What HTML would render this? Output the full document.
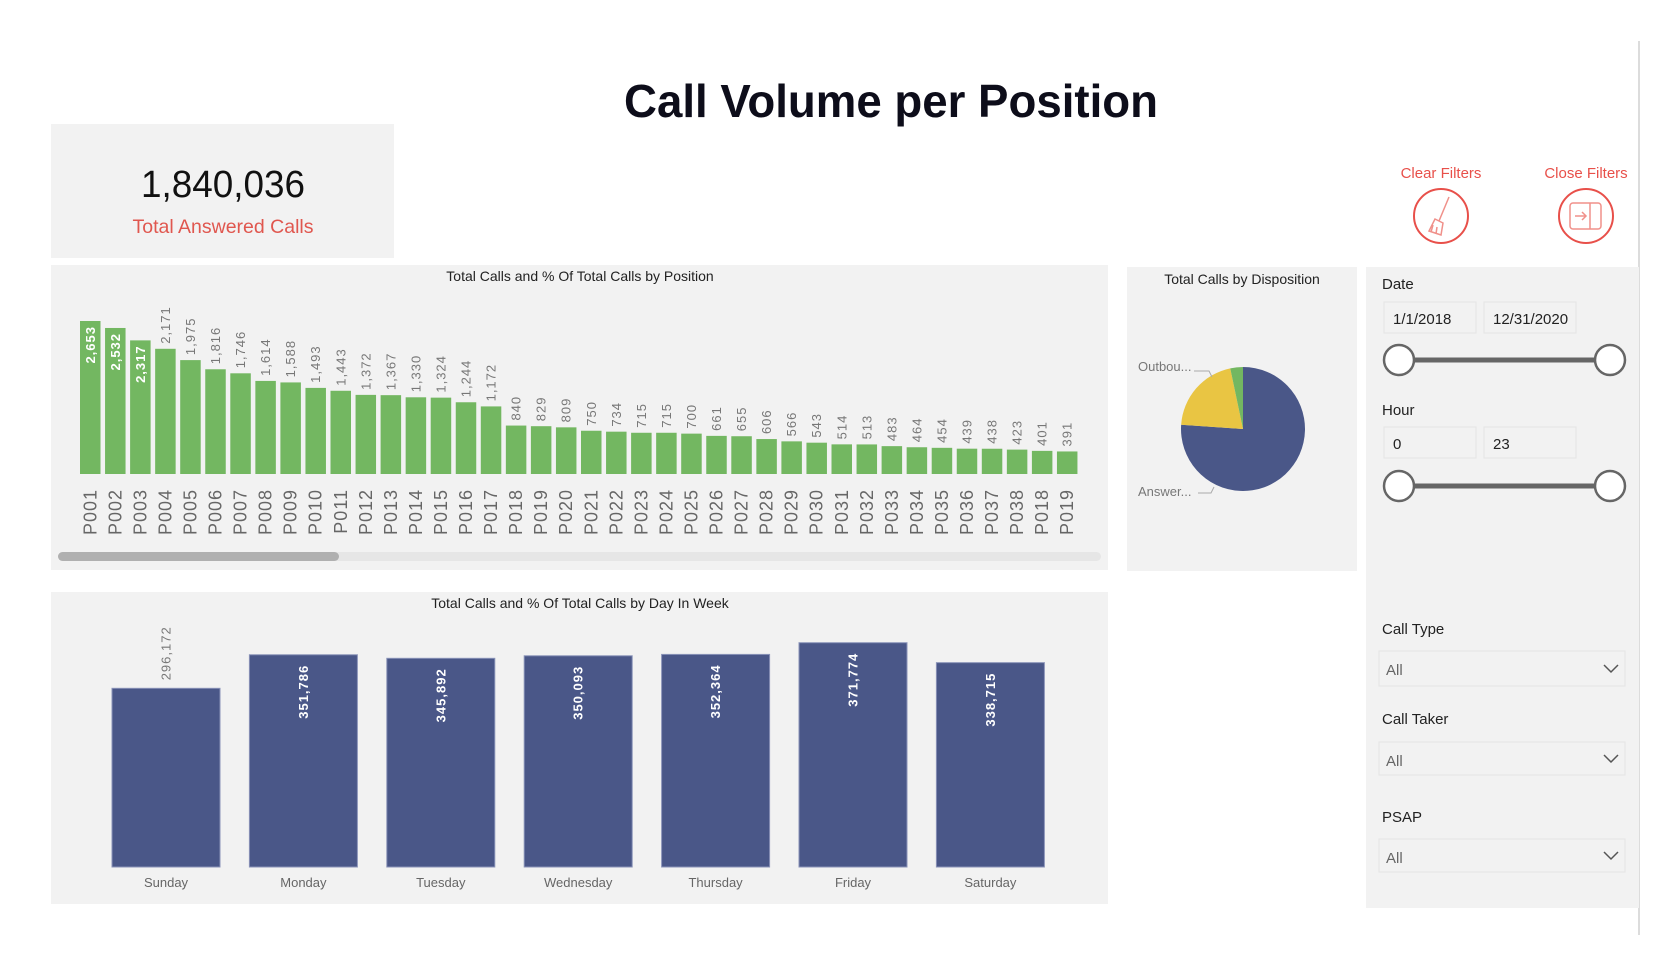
<!DOCTYPE html>
<html><head><meta charset="utf-8"><style>
body{margin:0;background:#fff;}
svg{display:block;font-family:"Liberation Sans",sans-serif;}
</style></head><body>
<svg id="dash" width="1680" height="971" viewBox="0 0 1680 971">
<text x="891" y="117" text-anchor="middle" font-size="46" font-weight="bold" fill="#0d0d1a" textLength="534" lengthAdjust="spacingAndGlyphs">Call Volume per Position</text>

<g>
<rect x="51" y="124" width="343" height="134" fill="#f2f2f2"/>
<text x="223" y="197" text-anchor="middle" font-size="38" fill="#111" textLength="164" lengthAdjust="spacingAndGlyphs">1,840,036</text>
<text x="223" y="233" text-anchor="middle" font-size="19.5" fill="#e0574f">Total Answered Calls</text>
</g>

<g>
<text x="1441" y="178" text-anchor="middle" font-size="15" fill="#e8504a">Clear Filters</text>
<circle cx="1441" cy="216" r="27" fill="#fff" stroke="#e8504a" stroke-width="2"/>
<g stroke="#f0908a" stroke-width="1.5" fill="none"><line x1="1449" y1="197" x2="1439" y2="221"/><path d="M1435 219 L1443 223 L1441 235 L1429 231 Z"/><line x1="1433" y1="225" x2="1431" y2="232"/><line x1="1437" y1="227" x2="1436" y2="234"/></g>
</g>
<g>
<text x="1586" y="178" text-anchor="middle" font-size="15" fill="#e8504a">Close Filters</text>
<circle cx="1586" cy="216" r="27" fill="#fff" stroke="#e8504a" stroke-width="2"/>
<g stroke="#f0908a" stroke-width="1.5" fill="none"><rect x="1570" y="203" width="31" height="26" rx="3"/><line x1="1590" y1="203" x2="1590" y2="229"/><line x1="1575" y1="216" x2="1586" y2="216"/><path d="M1582 212 L1586 216 L1582 220"/></g>
</g>

<line x1="1639" y1="41" x2="1639" y2="935" stroke="#d0d0d0" stroke-width="1.5"/>

<g>
<rect x="51" y="265" width="1057" height="305" fill="#f2f2f2"/>
<text x="580" y="281" text-anchor="middle" font-size="14" fill="#222">Total Calls and % Of Total Calls by Position</text>
<g id="posBars"></g>
<rect x="58" y="552" width="1043" height="9" rx="4.5" fill="#e6e6e6"/>
<rect x="58" y="552" width="281" height="9" rx="4.5" fill="#b0b0b0"/>
</g>

<g>
<rect x="51" y="592" width="1057" height="312" fill="#f2f2f2"/>
<text x="580" y="608" text-anchor="middle" font-size="14" fill="#222">Total Calls and % Of Total Calls by Day In Week</text>
<g id="dayBars"></g>
</g>

<g>
<rect x="1127" y="267" width="230" height="304" fill="#f2f2f2"/>
<text x="1242" y="284" text-anchor="middle" font-size="14" fill="#222">Total Calls by Disposition</text>
<g id="pie"></g>
<text x="1138" y="371" font-size="13" fill="#777">Outbou...</text>
<polyline points="1194,371 1209,371 1212,377" fill="none" stroke="#aaa"/>
<text x="1138" y="496" font-size="13" fill="#777">Answer...</text>
<polyline points="1198,493 1211,493 1214,487" fill="none" stroke="#aaa"/>
</g>

<g>
<rect x="1366" y="267" width="273" height="641" fill="#f2f2f2"/>
<text x="1382" y="289" font-size="15" fill="#222">Date</text>
<rect x="1384" y="302" width="92" height="31" fill="#f2f2f2" stroke="#e4e4e4"/>
<text x="1393" y="324" font-size="15" fill="#222">1/1/2018</text>
<rect x="1484" y="302" width="92" height="31" fill="#f2f2f2" stroke="#e4e4e4"/>
<text x="1493" y="324" font-size="15" fill="#222">12/31/2020</text>
<line x1="1399" y1="360" x2="1610" y2="360" stroke="#666" stroke-width="5"/>
<circle cx="1399" cy="360" r="15" fill="#fff" stroke="#666" stroke-width="2.5"/>
<circle cx="1610" cy="360" r="15" fill="#fff" stroke="#666" stroke-width="2.5"/>

<text x="1382" y="415" font-size="15" fill="#222">Hour</text>
<rect x="1384" y="427" width="92" height="31" fill="#f2f2f2" stroke="#e4e4e4"/>
<text x="1393" y="449" font-size="15" fill="#222">0</text>
<rect x="1484" y="427" width="92" height="31" fill="#f2f2f2" stroke="#e4e4e4"/>
<text x="1493" y="449" font-size="15" fill="#222">23</text>
<line x1="1399" y1="486" x2="1610" y2="486" stroke="#666" stroke-width="5"/>
<circle cx="1399" cy="486" r="15" fill="#fff" stroke="#666" stroke-width="2.5"/>
<circle cx="1610" cy="486" r="15" fill="#fff" stroke="#666" stroke-width="2.5"/>

<text x="1382" y="634" font-size="15" fill="#222">Call Type</text>
<g>
<rect x="1379" y="651" width="246" height="35" fill="#f2f2f2" stroke="#e4e4e4"/>
<text x="1386" y="675" font-size="15" fill="#666">All</text>
<path d="M1604 665 L1611 672 L1618 665" fill="none" stroke="#555" stroke-width="1.5"/>
</g>
<text x="1382" y="724" font-size="15" fill="#222">Call Taker</text>
<g>
<rect x="1379" y="742" width="246" height="33" fill="#f2f2f2" stroke="#e4e4e4"/>
<text x="1386" y="766" font-size="15" fill="#666">All</text>
<path d="M1604 755 L1611 762 L1618 755" fill="none" stroke="#555" stroke-width="1.5"/>
</g>
<text x="1382" y="822" font-size="15" fill="#222">PSAP</text>
<g>
<rect x="1379" y="839" width="246" height="33" fill="#f2f2f2" stroke="#e4e4e4"/>
<text x="1386" y="863" font-size="15" fill="#666">All</text>
<path d="M1604 852 L1611 859 L1618 852" fill="none" stroke="#555" stroke-width="1.5"/>
</g>
</g>
</svg>
<script>
const positions = ["P001","P002","P003","P004","P005","P006","P007","P008","P009","P010","P011","P012","P013","P014","P015","P016","P017","P018","P019","P020","P021","P022","P023","P024","P025","P026","P027","P028","P029","P030","P031","P032","P033","P034","P035","P036","P037","P038","P018","P019"];
const positionCalls = [2653,2532,2317,2171,1975,1816,1746,1614,1588,1493,1443,1372,1367,1330,1324,1244,1172,840,829,809,750,734,715,715,700,661,655,606,566,543,514,513,483,464,454,439,438,423,401,391];
const days = ["Sunday","Monday","Tuesday","Wednesday","Thursday","Friday","Saturday"];
const dayCalls = [296172,351786,345892,350093,352364,371774,338715];
const dispositions = ["Answered","Outbound","Other"];
const dispositionShare = [76.1,20.6,3.3];

const NS = "http://www.w3.org/2000/svg";
function mk(tag, attrs, parent){const e=document.createElementNS(NS,tag);for(const k in attrs)e.setAttribute(k,attrs[k]);parent.appendChild(e);return e;}
const fmt = v => v.toLocaleString("en-US");

const posG = document.getElementById("posBars");
const pBase = 474, pMaxH = 153, pMaxV = 2653;
const px = i => 80 + i*25.05;
const py = v => pBase - v*pMaxH/pMaxV;
positions.forEach((p,i)=>{
  const v = positionCalls[i], x = px(i), y = py(v), cx = x+10.25;
  const r = mk("rect",{x:x,y:y,width:20.5,height:pBase-y,fill:"#73b761"},posG);
  
  
  const inside = v > 2200;
  const t = mk("text",{transform:`translate(${cx},${inside?y+5:y-5}) rotate(-90)`,"text-anchor":inside?"end":"start","dominant-baseline":"central","font-size":"13","letter-spacing":"1",fill:inside?"#fff":"#777","font-weight":inside?"bold":"normal"},posG);
  t.textContent = fmt(v);
  
  
  const l = mk("text",{transform:`translate(${cx},489) rotate(-90)`,"text-anchor":"end","dominant-baseline":"central","font-size":"18","letter-spacing":"1",fill:"#666"},posG);
  l.textContent = p;
  
  
});

const dayG = document.getElementById("dayBars");
const dBase = 867, dMaxH = 224.3, dMaxV = 371774;
const dx = i => 112 + i*137.4;
const dy = v => dBase - v*dMaxH/dMaxV;
days.forEach((d,i)=>{
  const v = dayCalls[i], x = dx(i), y = dy(v), cx = x+54;
  const r = mk("rect",{x:x,y:y,width:108,height:dBase-y,fill:"#4a5788",stroke:"#8a93b8","stroke-width":"1"},dayG);
  
  
  const inside = v >= 300000;
  const t = mk("text",{transform:`translate(${cx},${inside?y+10:y-8}) rotate(-90)`,"text-anchor":inside?"end":"start","dominant-baseline":"central","font-size":"13","letter-spacing":"1",fill:inside?"#fff":"#777","font-weight":inside?"bold":"normal"},dayG);
  t.textContent = fmt(v);
  
  
  const l = mk("text",{x:cx,y:887,"text-anchor":"middle","font-size":"13",fill:"#666"},dayG);
  l.textContent = d;
  
  
});

const pieG = document.getElementById("pie");
const pcx = 1243, pcy = 429, pr = 62;
const colors = ["#4a5788","#e9c543","#73b761"];
const total = dispositionShare.reduce((a,b)=>a+b,0);
let ang = 0;
dispositionShare.forEach((s,i)=>{
  const a0 = ang, a1 = ang + s/total*2*Math.PI; ang = a1;
  const x0 = pcx + pr*Math.sin(a0), y0 = pcy - pr*Math.cos(a0);
  const x1 = pcx + pr*Math.sin(a1), y1 = pcy - pr*Math.cos(a1);
  const large = (a1-a0) > Math.PI ? 1 : 0;
  const path = mk("path",{d:`M${pcx},${pcy} L${x0},${y0} A${pr},${pr} 0 ${large} 1 ${x1},${y1} Z`,fill:colors[i]},pieG);
  
  
});
</script>
</body></html>
